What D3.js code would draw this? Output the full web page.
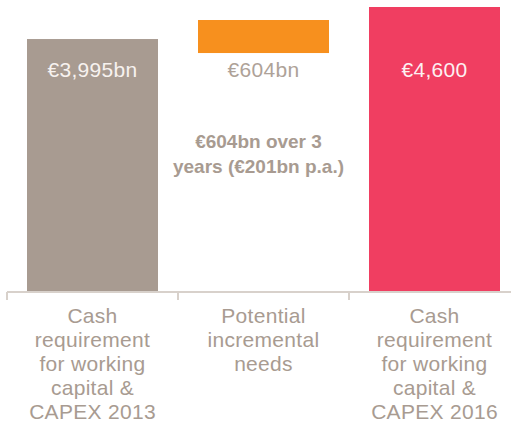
<!DOCTYPE html>
<html>
<head>
<meta charset="utf-8">
<script src="https://cdn.jsdelivr.net/npm/d3@7"></script>
<style>
  html, body { margin: 0; padding: 0; background: #fff; }
  svg { display: block; font-family: "Liberation Sans", Arial, sans-serif; }
</style>
</head>
<body>
<svg id="chart" width="511" height="425"></svg>
<script>
"use strict";

// Datos (las barras no están a escala exacta)
const categories = ["c2013", "incremental", "c2016"];
const barLow = [0, 3857, 0];
const barHigh = [4083, 4390, 4600];
const valueLabels = ["€3,995bn", "€604bn", "€4,600"];
const categoryLabels = [
  ["Cash", "requirement", "for working", "capital &", "CAPEX 2013"],
  ["Potential", "incremental", "needs"],
  ["Cash", "requirement", "for working", "capital &", "CAPEX 2016"],
];
const noteLines = ["€604bn over 3", "years (€201bn p.a.)"];

const barColors = ["#a89b91", "#f7901e", "#f03e61"];
const labelColors = ["#f7f2ef", "#aea298", "#fdf0f2"];
const grey = "#a89b91";

const width = 511;
const baseY = 292;

const svg = d3.select("#chart");

// Escalas
const x = d3.scaleBand().domain(categories).range([7, 520]).padding(0);
const y = d3.scaleLinear().domain([0, 4600]).range([baseY, 7]);
const inset = 20;

// Barras
svg
  .append("g")
  .selectAll("rect")
  .data(categories)
  .join("rect")
  .attr("x", (d) => x(d) + inset)
  .attr("width", x.bandwidth() - 2 * inset)
  .attr("y", (d, i) => y(barHigh[i]))
  .attr("height", (d, i) => y(barLow[i]) - y(barHigh[i]))
  .attr("fill", (d, i) => barColors[i]);

// Etiquetas de valor
svg
  .append("g")
  .selectAll("text")
  .data(categories)
  .join("text")
  .attr("x", (d) => x(d) + x.bandwidth() / 2)
  .attr("y", 77)
  .attr("text-anchor", "middle")
  .attr("font-size", "21px")
  .attr("letter-spacing", "0.3px")
  .attr("fill", (d, i) => labelColors[i])
  .text((d, i) => valueLabels[i]);

// Nota central en negrita
svg
  .append("g")
  .selectAll("text")
  .data(noteLines)
  .join("text")
  .attr("x", x("incremental") + x.bandwidth() / 2 - 5)
  .attr("y", (d, i) => 148 + i * 25)
  .attr("text-anchor", "middle")
  .attr("font-size", "19px")
  .attr("font-weight", "bold")
  .attr("fill", grey)
  .text((d) => d);

// Eje X
const axisG = svg.append("g").attr("transform", `translate(0,${baseY})`);
axisG
  .append("line")
  .attr("x1", 7)
  .attr("x2", width)
  .attr("stroke", "#d8d1cb")
  .attr("stroke-width", 2);
axisG
  .selectAll(".tick")
  .data(categories)
  .join("line")
  .attr("class", "tick")
  .attr("x1", (d) => x(d))
  .attr("x2", (d) => x(d))
  .attr("y1", 0)
  .attr("y2", 8)
  .attr("stroke", "#d8d1cb")
  .attr("stroke-width", 2);

// Etiquetas de categoría
categories.forEach((c, i) => {
  svg
    .append("text")
    .attr("text-anchor", "middle")
    .attr("font-size", "21px")
    .attr("letter-spacing", "0.3px")
    .attr("fill", grey)
    .selectAll("tspan")
    .data(categoryLabels[i])
    .join("tspan")
    .attr("x", x(c) + x.bandwidth() / 2)
    .attr("y", (d, j) => 323 + j * 24)
    .text((d) => d);
});
</script>
</body>
</html>
